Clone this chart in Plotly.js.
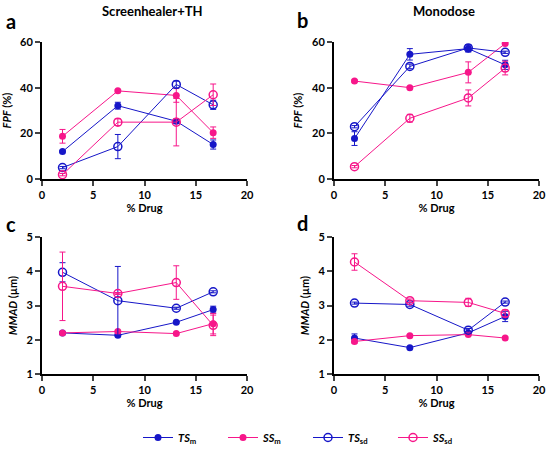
<!DOCTYPE html>
<html><head><meta charset="utf-8">
<script src="https://cdn.plot.ly/plotly-3.0.1.min.js"></script>
<style>html,body{margin:0;padding:0;background:#fff}#plot{width:550px;height:452px}</style>
</head><body><div id="plot"></div>
<script>
const xDrug = [2, 7.4, 13.1, 16.7];

const a_TSm = [12.0, 32.1, 25.3, 15.1];   const a_TSm_err = [0.5, 1.5, 1.0, 2.0];
const a_SSm = [18.7, 38.6, 36.6, 20.3];   const a_SSm_err = [3.0, 0.5, 3.0, 2.5];
const a_TSsd = [5.0, 14.2, 41.4, 32.5];   const a_TSsd_err = [0.5, 5.3, 1.5, 2.0];
const a_SSsd = [1.9, 24.9, 24.9, 36.9];   const a_SSsd_err = [0.5, 1.5, 10.4, 4.7];

const b_TSm = [17.7, 54.6, 57.1, 50.0];   const b_TSm_err = [3.0, 2.5, 1.5, 2.0];
const b_SSm = [42.9, 40.0, 46.7, 59.3];   const b_SSm_err = [0.5, 0.5, 4.6, 0.5];
const b_TSsd = [22.9, 49.3, 57.4, 55.5];  const b_TSsd_err = [0.5, 1.0, 1.5, 0.5];
const b_SSsd = [5.4, 26.6, 35.5, 48.6];   const b_SSsd_err = [0.5, 1.7, 3.5, 3.0];

const c_TSm = [2.20, 2.13, 2.51, 2.88];   const c_TSm_err = [0.02, 0.03, 0.03, 0.10];
const c_SSm = [2.20, 2.24, 2.18, 2.47];   const c_SSm_err = [0.02, 0.03, 0.03, 0.30];
const c_TSsd = [3.97, 3.14, 2.92, 3.40];  const c_TSsd_err = [0.28, 1.00, 0.03, 0.03];
const c_SSsd = [3.56, 3.35, 3.67, 2.42];  const c_SSsd_err = [1.00, 0.03, 0.49, 0.30];

const d_TSm = [2.05, 1.77, 2.20, 2.68];   const d_TSm_err = [0.12, 0.03, 0.03, 0.15];
const d_SSm = [1.95, 2.12, 2.15, 2.05];   const d_SSm_err = [0.05, 0.03, 0.03, 0.03];
const d_TSsd = [3.07, 3.03, 2.28, 3.10];  const d_TSsd_err = [0.03, 0.05, 0.05, 0.03];
const d_SSsd = [4.27, 3.14, 3.09, 2.77];  const d_SSsd_err = [0.24, 0.05, 0.12, 0.10];

const seriesNames = ['<i>TS</i><sub>m</sub>', '<i>SS</i><sub>m</sub>', '<i>TS</i><sub>sd</sub>', '<i>SS</i><sub>sd</sub>'];
const panelTitles = ['Screenhealer+TH', 'Monodose'];
const panelLetters = ['a', 'b', 'c', 'd'];
const xTicks = [0, 5, 10, 15, 20];
const fpfTicks = [0, 20, 40, 60];
const mmadTicks = [1, 2, 3, 4, 5];

const BLUE = '#1616c8', PINK = '#f7168a';
const styles = [
  {color: BLUE, open: false},
  {color: PINK, open: false},
  {color: BLUE, open: true},
  {color: PINK, open: true}
];

const panels = [
  {ys: [a_TSm, a_SSm, a_TSsd, a_SSsd], es: [a_TSm_err, a_SSm_err, a_TSsd_err, a_SSsd_err], xa: 'x', ya: 'y'},
  {ys: [b_TSm, b_SSm, b_TSsd, b_SSsd], es: [b_TSm_err, b_SSm_err, b_TSsd_err, b_SSsd_err], xa: 'x2', ya: 'y2'},
  {ys: [c_TSm, c_SSm, c_TSsd, c_SSsd], es: [c_TSm_err, c_SSm_err, c_TSsd_err, c_SSsd_err], xa: 'x3', ya: 'y3'},
  {ys: [d_TSm, d_SSm, d_TSsd, d_SSsd], es: [d_TSm_err, d_SSm_err, d_TSsd_err, d_SSsd_err], xa: 'x4', ya: 'y4'}
];

const traces = [];
panels.forEach((p, pi) => {
  p.ys.forEach((ys, si) => {
    const st = styles[si];
    traces.push({
      type: 'scatter', mode: 'lines+markers',
      x: xDrug, y: ys, xaxis: p.xa, yaxis: p.ya,
      name: seriesNames[si], showlegend: pi === 0, legendgroup: 's' + si,
      line: {color: st.color, width: 1},
      marker: st.open
        ? {symbol: 'circle-open', size: 8, color: st.color, line: {width: 1.5, color: st.color}}
        : {symbol: 'circle', size: 7, color: st.color},
      error_y: {type: 'data', array: p.es[si], visible: true, color: st.color, thickness: 1, width: 3}
    });
  });
});

const FONT = 'Lato, "Open Sans", sans-serif';
function xax(dom, anchor) {
  return {domain: dom, anchor: anchor, range: [0, 20], tickvals: xTicks, ticks: 'outside', ticklen: 5, tickwidth: 2,
    showline: true, linewidth: 2, linecolor: '#000', showgrid: false, zeroline: false,
    tickfont: {family: FONT, size: 11, color: '#000', weight: 'bold'},
    title: {text: '% Drug', standoff: 2, font: {family: FONT, size: 11, color: '#000', weight: 'bold'}}};
}
function yax(dom, anchor, range, ticks, title) {
  return {domain: dom, anchor: anchor, range: range, tickvals: ticks, ticks: 'outside', ticklen: 5, tickwidth: 2,
    showline: true, linewidth: 2, linecolor: '#000', showgrid: false, zeroline: false,
    tickfont: {family: FONT, size: 11, color: '#000', weight: 'bold'},
    title: {text: title, standoff: 7, font: {family: FONT, size: 11, color: '#000', weight: 'bold'}}};
}

const xL = [42/550, 247/550], xR = [334/550, 539/550];
const yT = [1 - 179/452, 1 - 42/452], yB = [1 - 374/452, 1 - 237/452];

const annFont = {family: FONT, color: '#000', weight: 'bold'};
const annotations = [
  {text: panelTitles[0], x: 152/550, y: 1 - 11/452, font: Object.assign({size: 13}, annFont)},
  {text: panelTitles[1], x: 444/550, y: 1 - 11/452, font: Object.assign({size: 13}, annFont)},
  {text: panelLetters[0], x: 11/550, y: 1 - 21/452, font: Object.assign({size: 20}, annFont)},
  {text: panelLetters[1], x: 302/550, y: 1 - 20/452, font: Object.assign({size: 20}, annFont)},
  {text: panelLetters[2], x: 11/550, y: 1 - 224/452, font: Object.assign({size: 20}, annFont)},
  {text: panelLetters[3], x: 302/550, y: 1 - 223/452, font: Object.assign({size: 20}, annFont)}
].map(a => Object.assign({xref: 'paper', yref: 'paper', showarrow: false, xanchor: 'center', yanchor: 'middle'}, a));

const layout = {
  width: 550, height: 452, margin: {l: 0, r: 0, t: 0, b: 0},
  paper_bgcolor: '#fff', plot_bgcolor: '#fff',
  font: {family: FONT, color: '#000'},
  xaxis: xax(xL, 'y'), yaxis: yax(yT, 'x', [0, 60], fpfTicks, '<i>FPF</i> (%)'),
  xaxis2: xax(xR, 'y2'), yaxis2: yax(yT, 'x2', [0, 60], fpfTicks, '<i>FPF</i> (%)'),
  xaxis3: xax(xL, 'y3'), yaxis3: yax(yB, 'x3', [1, 5], mmadTicks, '<i>MMAD</i> (µm)'),
  xaxis4: xax(xR, 'y4'), yaxis4: yax(yB, 'x4', [1, 5], mmadTicks, '<i>MMAD</i> (µm)'),
  showlegend: true,
  legend: {orientation: 'h', x: 138/550, xanchor: 'left', y: 0, yanchor: 'bottom',
    itemwidth: 30, entrywidth: 40, font: {family: FONT, size: 11, color: '#000', weight: 'bold'}},
  annotations: annotations
};

Plotly.newPlot('plot', traces, layout, {displayModeBar: false, staticPlot: true});
</script></body></html>
